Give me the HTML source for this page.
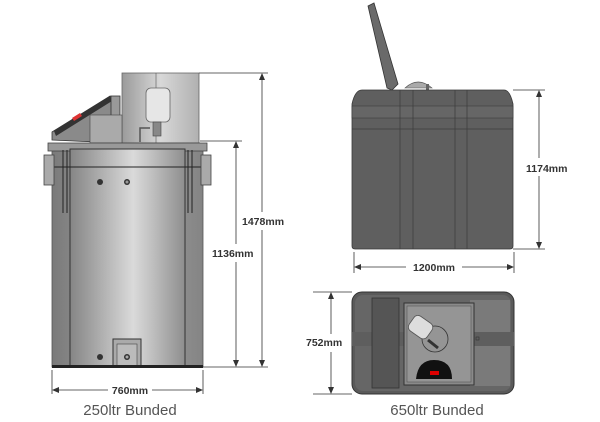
<!DOCTYPE html>
<html><head><meta charset="utf-8"><style>
html,body{margin:0;padding:0;background:#fff;}
svg{display:block;}
text{font-family:"Liberation Sans",sans-serif;}
</style></head><body>
<svg width="600" height="422" viewBox="0 0 600 422" xmlns="http://www.w3.org/2000/svg">
<defs>
<linearGradient id="tank" x1="0" x2="1" y1="0" y2="0">
<stop offset="0" stop-color="#858585"/><stop offset="0.55" stop-color="#dadada"/><stop offset="0.7" stop-color="#c2c2c2"/><stop offset="1" stop-color="#8e8e8e"/>
</linearGradient>
<linearGradient id="bund" x1="0" x2="1">
<stop offset="0" stop-color="#7a7a7a"/><stop offset="0.5" stop-color="#a5a5a5"/><stop offset="1" stop-color="#848484"/>
</linearGradient>
<linearGradient id="tower" x1="0" x2="1">
<stop offset="0" stop-color="#9a9a9a"/><stop offset="0.5" stop-color="#d8d8d8"/><stop offset="1" stop-color="#b0b0b0"/>
</linearGradient>
</defs>

<rect x="122" y="73" width="77" height="70" fill="url(#tower)" stroke="#666" stroke-width="0.8"/>
<line x1="156" y1="73" x2="156" y2="143" stroke="#555" stroke-width="0.6"/>
<rect x="146" y="88" width="24" height="34" rx="5" fill="#e6e6e6" stroke="#666" stroke-width="0.8"/>
<rect x="153" y="122" width="8" height="14" fill="#888" stroke="#444" stroke-width="0.6"/>
<path d="M140 142 V128 H150" fill="none" stroke="#555" stroke-width="1.5"/>
<polygon points="52,140 52,132 110,96 118,98 118,143" fill="#8a8a8a" stroke="#333" stroke-width="0.8"/>
<polygon points="54,131 110,96 112,101 56,136" fill="#333"/>
<polygon points="72,118 80,113 82,116 74,121" fill="#d33"/>
<rect x="111" y="96" width="9" height="50" fill="#999" stroke="#333" stroke-width="0.8"/>
<rect x="90" y="115" width="32" height="28" fill="#aaa" stroke="#444" stroke-width="0.6"/>
<rect x="52" y="150" width="151" height="217" fill="url(#bund)" stroke="#555" stroke-width="0.8"/>
<rect x="48" y="143" width="159" height="8" fill="#999" stroke="#444" stroke-width="0.8"/>
<rect x="70" y="149" width="115" height="218" fill="url(#tank)" stroke="#333" stroke-width="1"/>
<line x1="48" y1="167" x2="207" y2="167" stroke="#222" stroke-width="1"/>
<rect x="44" y="155" width="10" height="30" fill="#aaa" stroke="#444" stroke-width="0.8"/>
<rect x="201" y="155" width="10" height="30" fill="#aaa" stroke="#444" stroke-width="0.8"/>
<path d="M63 150 V213 M67 150 V213 M188 150 V213 M192 150 V213" stroke="#222" stroke-width="1"/>
<circle cx="100" cy="182" r="3" fill="#333"/><circle cx="127" cy="182" r="3" fill="#333"/>
<circle cx="127" cy="182" r="1.5" fill="#999"/>
<circle cx="100" cy="357" r="3" fill="#333"/>
<rect x="113" y="339" width="28" height="27" fill="#aaa" stroke="#333" stroke-width="1"/>
<rect x="117" y="344" width="20" height="22" fill="#bbb" stroke="#444" stroke-width="0.6"/>
<circle cx="127" cy="357" r="3" fill="#333"/><circle cx="127" cy="357" r="1.5" fill="#aaa"/>
<rect x="52" y="365" width="151" height="3" fill="#222"/>

<g stroke="#333" stroke-width="0.8" fill="none">
<line x1="199" y1="73" x2="268" y2="73"/>
<line x1="200" y1="141" x2="242" y2="141"/>
<line x1="203" y1="367" x2="268" y2="367"/>
<line x1="262" y1="75" x2="262" y2="212"/><line x1="262" y1="230" x2="262" y2="365"/>
<line x1="236" y1="143" x2="236" y2="244"/><line x1="236" y1="262" x2="236" y2="365"/>
<line x1="52" y1="370" x2="52" y2="394"/><line x1="203" y1="370" x2="203" y2="394"/>
<line x1="54" y1="390" x2="108" y2="390"/><line x1="152" y1="390" x2="201" y2="390"/>
</g>
<g fill="#333">
<polygon points="262,73 259,80 265,80"/><polygon points="262,367 259,360 265,360"/>
<polygon points="236,141 233,148 239,148"/><polygon points="236,367 233,360 239,360"/>
<polygon points="52,390 59,387 59,393"/><polygon points="203,390 196,387 196,393"/>
</g>
<text x="242" y="225" font-size="10.5" font-weight="bold" fill="#333">1478mm</text>
<text x="212" y="257" font-size="10.5" font-weight="bold" fill="#333">1136mm</text>
<text x="130" y="394" font-size="10.5" font-weight="bold" fill="#333" text-anchor="middle">760mm</text>
<text x="130" y="415" font-size="15" fill="#555" text-anchor="middle">250ltr Bunded</text>

<polygon points="368,6 374,3 398,84 392,90 387,88" fill="#6a6a6a" stroke="#333" stroke-width="0.8"/>
<path d="M405 88 Q418 76 432 88 Z" fill="#aaa" stroke="#555" stroke-width="0.6"/>
<rect x="426" y="84" width="3" height="6" fill="#666"/>
<path d="M362 90 H504 Q510 90 513 104 V246 Q513 249 510 249 H355 Q352 249 352 246 V104 Q355 90 362 90 Z" fill="#5f5f5f" stroke="#3a3a3a" stroke-width="0.8"/>
<rect x="352" y="106" width="161" height="12" fill="#666" stroke="#3c3c3c" stroke-width="0.6"/>
<line x1="352" y1="129" x2="513" y2="129" stroke="#3c3c3c" stroke-width="0.8"/>
<g stroke="#3e3e3e" stroke-width="0.8">
<line x1="400" y1="90" x2="400" y2="249"/><line x1="413" y1="90" x2="413" y2="249"/>
<line x1="455" y1="90" x2="455" y2="249"/><line x1="467" y1="90" x2="467" y2="249"/>
</g>
<g stroke="#333" stroke-width="0.8">
<line x1="513" y1="90" x2="545" y2="90"/><line x1="513" y1="249" x2="545" y2="249"/>
<line x1="539" y1="92" x2="539" y2="158"/><line x1="539" y1="176" x2="539" y2="247"/>
<line x1="354" y1="252" x2="354" y2="273"/><line x1="514" y1="252" x2="514" y2="273"/>
<line x1="356" y1="267" x2="406" y2="267"/><line x1="462" y1="267" x2="512" y2="267"/>
<line x1="313" y1="292" x2="352" y2="292"/><line x1="313" y1="394" x2="352" y2="394"/>
<line x1="331" y1="294" x2="331" y2="334"/><line x1="331" y1="352" x2="331" y2="392"/>
</g>
<g fill="#333">
<polygon points="539,90 536,97 542,97"/><polygon points="539,249 536,242 542,242"/>
<polygon points="354,267 361,264 361,270"/><polygon points="514,267 507,264 507,270"/>
<polygon points="331,292 328,299 334,299"/><polygon points="331,394 328,387 334,387"/>
</g>
<text x="526" y="172" font-size="10.5" font-weight="bold" fill="#333">1174mm</text>
<text x="434" y="271" font-size="10.5" font-weight="bold" fill="#333" text-anchor="middle">1200mm</text>
<text x="306" y="346" font-size="10.5" font-weight="bold" fill="#333">752mm</text>

<rect x="352" y="292" width="162" height="102" rx="10" fill="#5a5a5a" stroke="#333" stroke-width="1"/>
<rect x="355" y="295" width="156" height="96" rx="8" fill="#666"/>
<rect x="470" y="300" width="40" height="86" fill="#7a7a7a"/>
<rect x="352" y="332" width="162" height="14" fill="#5e5e5e"/>
<rect x="372" y="298" width="27" height="90" fill="#555" stroke="#333" stroke-width="0.8"/>
<rect x="404" y="303" width="70" height="82" fill="#8a8a8a" stroke="#333" stroke-width="1"/>
<rect x="407" y="306" width="64" height="76" fill="#959595" stroke="#555" stroke-width="0.6"/>
<circle cx="435" cy="339" r="13" fill="none" stroke="#333" stroke-width="0.8"/>
<g transform="rotate(35 420 328)"><rect x="409" y="318" width="22" height="18" rx="5" fill="#ddd" stroke="#555" stroke-width="0.8"/></g>
<line x1="428" y1="340" x2="438" y2="348" stroke="#333" stroke-width="3"/>
<path d="M416 379 Q418 360 434 360 Q452 360 452 379 Z" fill="#111"/>
<rect x="430" y="371" width="9" height="4" fill="#d00"/>
<rect x="476" y="337" width="3" height="3" fill="none" stroke="#333" stroke-width="0.6"/>
<text x="437" y="415" font-size="15" fill="#555" text-anchor="middle">650ltr Bunded</text>
</svg>
</body></html>
